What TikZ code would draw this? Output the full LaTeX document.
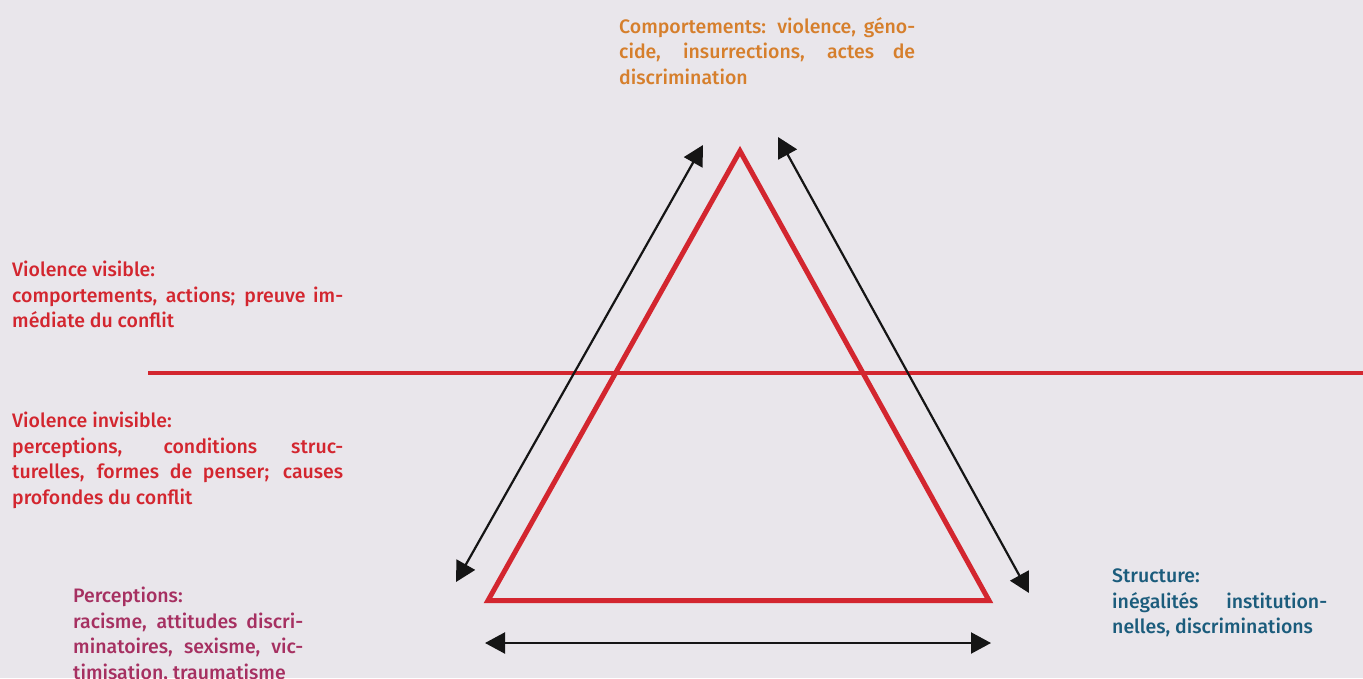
\documentclass[tikz,border=0pt]{standalone}
\usepackage{fontspec}
\setmainfont{Fira Sans}[UprightFont={* Medium}]
\usetikzlibrary{arrows.meta}
\definecolor{bg}{HTML}{E9E6EB}
\definecolor{tred}{HTML}{D3262F}
\definecolor{torange}{HTML}{D67F2C}
\definecolor{tmag}{HTML}{A63061}
\definecolor{tblue}{HTML}{1B5C7C}
\definecolor{arr}{HTML}{151515}
\tikzset{
  lbl/.style={anchor=north west, inner sep=0pt, align=justify, font=\fontsize{19.5}{25.5}\selectfont},
  dbl/.style={arr, line width=2.2pt, {Triangle[length=20pt,width=21pt]}-{Triangle[length=20pt,width=21pt]}},
  redline/.style={tred, line width=4.5pt}
}
\begin{document}
\begin{tikzpicture}[x=1pt,y=-1pt]
\fill[bg] (0,0) rectangle (1363,678);
\useasboundingbox (0,0) rectangle (1363,678);
% horizon line
\coordinate (hl) at (148,373);
\coordinate (hr) at (1363,373);
\draw[redline] (hl) -- (hr);
% triangle
\coordinate (A) at (740,151);
\coordinate (B) at (488,600.5);
\coordinate (C) at (989,600.5);
\draw[redline, line width=5pt, line join=miter] (A) -- (B) -- (C) -- cycle;
% arrows
\coordinate (l1) at (703,145);
\coordinate (l2) at (456,582);
\coordinate (r1) at (778,137);
\coordinate (r2) at (1029,593);
\coordinate (b1) at (485,643);
\coordinate (b2) at (991,643);
\draw[dbl] (l1) -- (l2);
\draw[dbl] (r1) -- (r2);
\draw[dbl] (b1) -- (b2);
% labels
\node[lbl, text width=296pt, text=torange] (top) at (619,17)
 {Comportements: violence, géno-\linebreak cide, insurrections, actes de\linebreak discrimination};
\node[lbl, text width=331pt, text=tred] (vis) at (12,261)
 {Violence visible:\\ comportements, actions; preuve im-\linebreak médiate du conflit};
\node[lbl, text width=331pt, text=tred] (invis) at (12,412)
 {Violence invisible:\\ perceptions, conditions struc-\linebreak turelles, formes de penser; causes\linebreak profondes du conflit};
\node[lbl, text width=230pt, text=tmag] (perc) at (73,587)
 {Perceptions:\\ racisme, attitudes discri-\linebreak minatoires, sexisme, vic-\linebreak timisation, traumatisme};
\node[lbl, text width=215pt, text=tblue] (str) at (1112,569)
 {Structure:\\ inégalités institution-\linebreak nelles, discriminations};
\end{tikzpicture}
\end{document}
